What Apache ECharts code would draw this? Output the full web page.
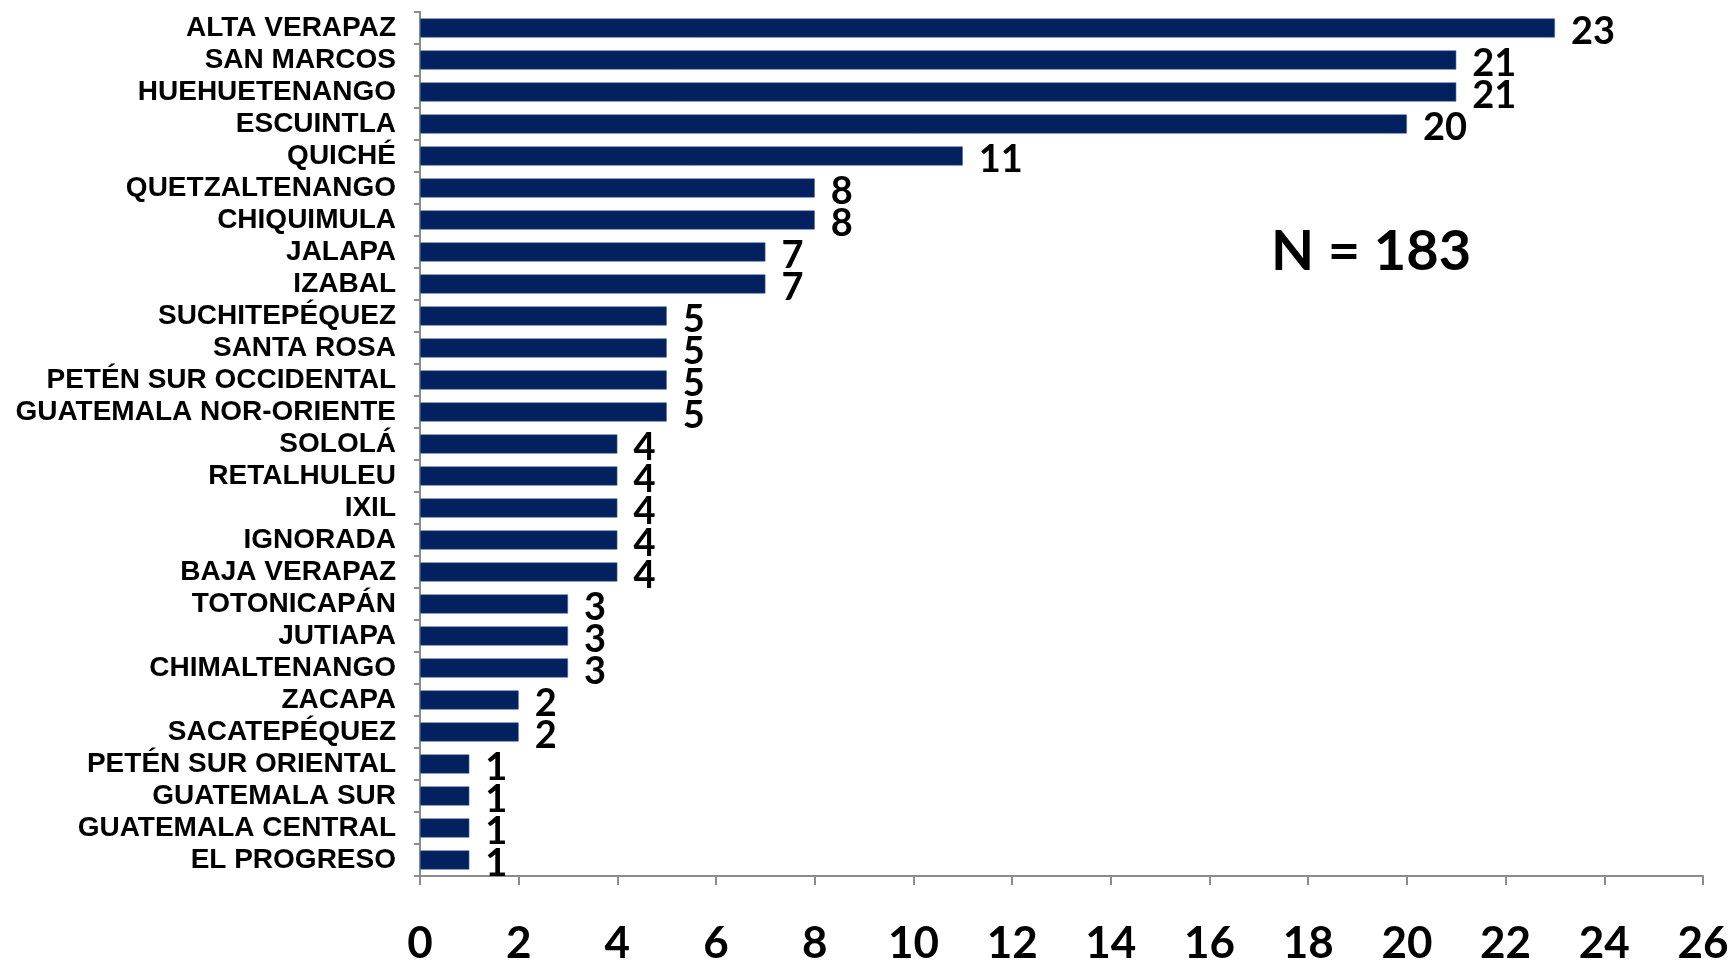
<!DOCTYPE html>
<html>
<head>
<meta charset="utf-8">
<title>Casos por área de salud</title>
<script src="https://cdn.jsdelivr.net/npm/echarts@6/dist/echarts.min.js"></script>
<style>
  html, body { margin: 0; padding: 0; background: #fff; }
  #chart { width: 1733px; height: 960px; }
</style>
</head>
<body>
<div id="chart"></div>
<script>
// categories top to bottom
var areas = ['ALTA VERAPAZ', 'SAN MARCOS', 'HUEHUETENANGO', 'ESCUINTLA', 'QUICHÉ',
  'QUETZALTENANGO', 'CHIQUIMULA', 'JALAPA', 'IZABAL', 'SUCHITEPÉQUEZ', 'SANTA ROSA',
  'PETÉN SUR OCCIDENTAL', 'GUATEMALA NOR-ORIENTE', 'SOLOLÁ', 'RETALHULEU', 'IXIL',
  'IGNORADA', 'BAJA VERAPAZ', 'TOTONICAPÁN', 'JUTIAPA', 'CHIMALTENANGO', 'ZACAPA',
  'SACATEPÉQUEZ', 'PETÉN SUR ORIENTAL', 'GUATEMALA SUR', 'GUATEMALA CENTRAL', 'EL PROGRESO'];
var casos = [23, 21, 21, 20, 11, 8, 8, 7, 7, 5, 5, 5, 5, 4, 4, 4, 4, 4, 3, 3, 3, 2, 2, 1, 1, 1, 1];
var xTicks = [0, 2, 4, 6, 8, 10, 12, 14, 16, 18, 20, 22, 24, 26];
var totalText = 'N = 183';

var myChart = echarts.init(document.getElementById('chart'));
var option = {
  animation: false,
  grid: { left: 420, right: 30, top: 12, bottom: 84, outerBoundsMode: 'none', containLabel: false },
  xAxis: {
    type: 'value',
    min: xTicks[0],
    max: xTicks[xTicks.length - 1],
    interval: 2,
    axisLine: { show: true, lineStyle: { color: '#8c8c8c', width: 2 } },
    axisTick: { show: true, length: 9, lineStyle: { color: '#8c8c8c', width: 2 } },
    splitLine: { show: false },
    axisLabel: {
      color: '#000', fontFamily: 'Lato', fontWeight: 'bold', fontSize: 44, margin: 46
    }
  },
  yAxis: {
    type: 'category',
    data: areas,
    inverse: true,
    axisLine: { show: true, lineStyle: { color: '#8c8c8c', width: 2 } },
    axisTick: { show: true, length: 6, lineStyle: { color: '#8c8c8c', width: 2 } },
    axisLabel: {
      interval: 0,
      color: '#000', fontFamily: 'Liberation Sans', fontWeight: 'bold', fontSize: 28, margin: 24
    }
  },
  graphic: [{
    type: 'text',
    left: 1271,
    top: 224,
    style: { text: totalText, fill: '#000', font: 'bold 56px Lato' }
  }],
  series: [{
    type: 'bar',
    data: casos,
    barCategoryGap: '40%',
    itemStyle: { color: '#03205e', borderColor: '#4a6aa5', borderWidth: 0.6 },
    label: {
      show: true,
      position: 'right',
      distance: 16,
      color: '#000',
      fontFamily: 'Lato',
      fontWeight: 'bold',
      fontSize: 38,
      offset: [0, 4]
    }
  }]
};
myChart.setOption(option);
</script>
</body>
</html>
